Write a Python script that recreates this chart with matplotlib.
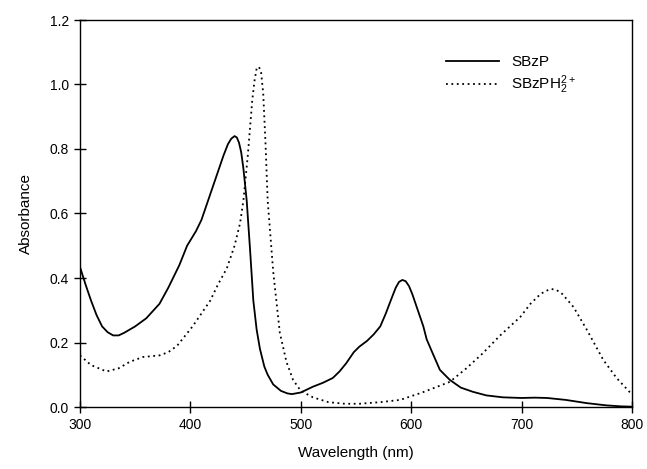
import matplotlib
matplotlib.use("Agg")
import matplotlib.pyplot as plt

plt.rcParams['font.family'] = ['Liberation Sans', 'DejaVu Sans']
plt.rcParams['mathtext.fontset'] = 'custom'
plt.rcParams['mathtext.rm'] = 'Liberation Sans'
plt.rcParams['mathtext.it'] = 'Liberation Sans'

# SBzP (solid)
wl_sbzp = [300, 305, 310, 315, 320, 325, 330, 335, 340, 350, 360, 372, 380, 390,
           397, 405, 410, 416, 420, 425, 430, 434, 437, 440, 442, 444, 446, 448,
           451, 454, 457, 460, 463, 467, 470, 475, 482, 488, 492, 500, 511, 520,
           529, 535, 541, 548, 553, 560, 566, 572, 577, 582, 586, 589, 592, 595,
           598, 601, 605, 611, 614, 619, 626, 635, 645, 656, 668, 683, 700, 712,
           723, 740, 759, 777, 790, 800]
abs_sbzp = [0.434, 0.38, 0.33, 0.285, 0.25, 0.232, 0.222, 0.222, 0.23, 0.25,
            0.275, 0.32, 0.37, 0.44, 0.5, 0.545, 0.58, 0.64, 0.68, 0.73, 0.78,
            0.815, 0.832, 0.84, 0.836, 0.82, 0.79, 0.74, 0.64, 0.49, 0.33, 0.24,
            0.18, 0.125, 0.10, 0.07, 0.05, 0.042, 0.04, 0.045, 0.063, 0.075,
            0.09, 0.11, 0.135, 0.17, 0.187, 0.205, 0.225, 0.25, 0.29, 0.335,
            0.37, 0.388, 0.394, 0.39, 0.375, 0.35, 0.31, 0.25, 0.21, 0.17, 0.115,
            0.084, 0.06, 0.047, 0.036, 0.03, 0.028, 0.029, 0.028, 0.022, 0.012,
            0.005, 0.002, 0.001]

# SBzPH2 2+ (dotted)
wl_sbzph2 = [300, 310, 324, 335, 345, 357, 372, 380, 388, 395, 402, 410, 418, 425,
             433, 440, 445, 448, 452, 456, 458, 460, 462, 464, 466, 468, 470, 475,
             481, 487, 493, 500, 511, 525, 540, 553, 572, 590, 610, 635, 650, 665,
             680, 699, 708, 717, 722, 727, 732, 737, 747, 759, 774, 786, 798, 800]
abs_sbzph2 = [0.16, 0.13, 0.11, 0.12, 0.14, 0.155, 0.16, 0.17, 0.19, 0.22, 0.25,
              0.29, 0.33, 0.38, 0.43, 0.5, 0.57, 0.64, 0.78, 0.95, 1.01, 1.05,
              1.055, 1.04, 0.97, 0.82, 0.64, 0.42, 0.23, 0.14, 0.084, 0.05, 0.03,
              0.015, 0.01, 0.01, 0.015, 0.022, 0.045, 0.078, 0.12, 0.167, 0.22,
              0.28, 0.32, 0.35, 0.36, 0.366, 0.362, 0.35, 0.31, 0.24, 0.146,
              0.09, 0.046, 0.04]

xticks = [300, 400, 500, 600, 700, 800]
yticks = [0.0, 0.2, 0.4, 0.6, 0.8, 1.0, 1.2]

fig = plt.figure(figsize=(6.47, 4.69), dpi=100)
ax = fig.add_axes([80/647, 1 - 407/469, (632 - 80)/647, (407 - 20)/469])

ax.plot(wl_sbzp, abs_sbzp, color='black', lw=1.3, label='SBzP')
ax.plot(wl_sbzph2, abs_sbzph2, color='black', lw=1.3, linestyle=(0, (1, 2)),
        label='SBzPH$_2^{2+}$')

ax.set_xlim(300, 800)
ax.set_ylim(0, 1.2)
ax.set_xticks(xticks)
ax.set_yticks(yticks)
ax.set_xticklabels([str(t) for t in xticks])
ax.set_yticklabels([f"{t:.1f}" for t in yticks])
ax.tick_params(direction='inout', length=8, width=1, labelsize=10, pad=4)
for s in ax.spines.values():
    s.set_linewidth(1)

ax.set_xlabel('Wavelength (nm)', fontsize=11, labelpad=10)
ax.set_ylabel('Absorbance', fontsize=11, labelpad=12)

leg = ax.legend(loc='upper right', bbox_to_anchor=(0.91, 0.925), frameon=False,
                fontsize=11, handlelength=3.5, handletextpad=0.8,
                labelspacing=0.3, borderaxespad=0)

fig.savefig('out.png', dpi=100)
